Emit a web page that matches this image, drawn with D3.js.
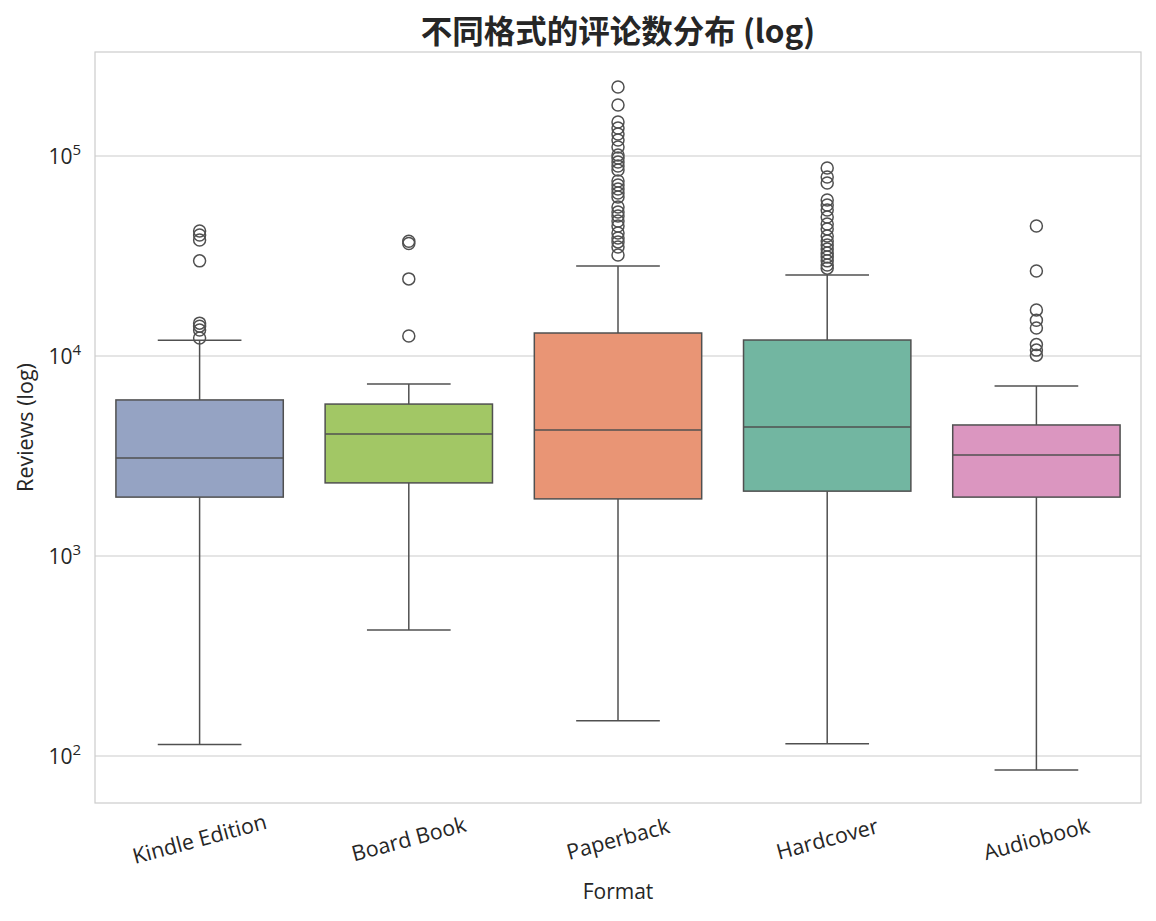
<!DOCTYPE html>
<html lang="zh">
<head>
    <meta charset="UTF-8">
    <title>不同格式的评论数分布 (log)</title>
    <script src="https://d3js.org/d3.v7.min.js"></script>
    <style>
        body, html {
            margin: 0;
            background-color: #ffffff;
        }
        text {
            font-family: "Open Sans", "Noto Sans", sans-serif;
            fill: #262626;
        }
    </style>
</head>
<body>
    <div id="chart"></div>

    <script>
        // Box statistics
        const formats = ["Kindle Edition", "Board Book", "Paperback", "Hardcover", "Audiobook"];
        const colors = ["#95a3c3", "#a2c765", "#e99575", "#72b6a1", "#db96c0"];
        const q1 = [1970, 2320, 1930, 2110, 1970];
        const median = [3090, 4070, 4270, 4420, 3200];
        const q3 = [6030, 5750, 13030, 12020, 4520];
        const whiskerLow = [114, 427, 150, 115, 85];
        const whiskerHigh = [12000, 7240, 28200, 25400, 7080];
        const outliers = [
            [42200, 40300, 38000, 29900, 14600, 14100, 13500, 12300],
            [37500, 36500, 24300, 12600],
            [221300, 179900, 147900, 138000, 128800, 120200, 110900, 101200, 97700, 93300,
             89100, 85100, 75000, 71600, 68400, 65300, 62400, 55600, 52500, 50100,
             47300, 44700, 41200, 38900, 37200, 35100, 32000],
            [87100, 78500, 73300, 60300, 56900, 53700, 49500, 45700, 43200, 39800,
             37600, 35900, 34300, 32700, 31300, 29900, 28500, 27500],
            [44700, 26600, 17000, 15100, 13800, 11400, 10700, 10100]
        ];
        const yTicks = [100, 1000, 10000, 100000];

        const width = 1156, height = 921;
        const margin = {top: 52, right: 15, bottom: 118, left: 95};
        const lineColor = "#505050";

        const svg = d3.select("#chart")
            .append("svg")
            .attr("width", width)
            .attr("height", height);

        const x = d3.scaleBand()
            .domain(formats)
            .range([margin.left, width - margin.right])
            .paddingInner(0)
            .paddingOuter(0);

        const y = d3.scaleLog()
            .domain([Math.pow(10, 1.765), Math.pow(10, 5.52)])
            .range([height - margin.bottom, margin.top]);

        // Grid
        svg.append("g")
            .selectAll("line")
            .data(yTicks)
            .join("line")
            .attr("x1", margin.left)
            .attr("x2", width - margin.right)
            .attr("y1", d => y(d))
            .attr("y2", d => y(d))
            .attr("stroke", "#cccccc")
            .attr("stroke-width", 1.2);

        // Frame
        svg.append("rect")
            .attr("x", margin.left)
            .attr("y", margin.top)
            .attr("width", width - margin.left - margin.right)
            .attr("height", height - margin.top - margin.bottom)
            .attr("fill", "none")
            .attr("stroke", "#cccccc")
            .attr("stroke-width", 1.2);

        // Y tick labels: 10 with superscript exponent
        const yLabels = svg.append("g")
            .selectAll("text")
            .data(yTicks)
            .join("text")
            .attr("x", margin.left - 14)
            .attr("y", d => y(d) + 8)
            .attr("text-anchor", "end")
            .style("font-size", "21px");
        yLabels.append("tspan").text("10");
        yLabels.append("tspan")
            .attr("dy", -9)
            .style("font-size", "15px")
            .text(d => Math.round(Math.log10(d)));

        // X tick labels, rotated 15°
        svg.append("g")
            .selectAll("text")
            .data(formats)
            .join("text")
            .attr("transform", d => `translate(${x(d) + x.bandwidth() / 2}, ${height - margin.bottom + 36}) rotate(-15)`)
            .attr("text-anchor", "middle")
            .attr("dy", "0.35em")
            .style("font-size", "21.5px")
            .text(d => d);

        // Axis titles
        svg.append("text")
            .attr("x", margin.left + (width - margin.left - margin.right) / 2)
            .attr("y", 899)
            .attr("text-anchor", "middle")
            .style("font-size", "21px")
            .text("Format");

        svg.append("text")
            .attr("transform", `translate(33, ${margin.top + (height - margin.top - margin.bottom) / 2}) rotate(-90)`)
            .attr("text-anchor", "middle")
            .style("font-size", "21.5px")
            .text("Reviews (log)");

        svg.append("text")
            .attr("x", margin.left + (width - margin.left - margin.right) / 2)
            .attr("y", 43)
            .attr("text-anchor", "middle")
            .style("font-family", "'Noto Sans CJK SC', sans-serif")
            .style("font-size", "31.5px")
            .style("font-weight", "bold")
            .text("不同格式的评论数分布 (log)");

        // Boxes
        const boxW = x.bandwidth() * 0.8;
        const groups = svg.append("g")
            .selectAll("g")
            .data(formats.map((f, i) => ({f, i})))
            .join("g")
            .attr("transform", d => `translate(${x(d.f) + x.bandwidth() / 2}, 0)`);

        // whiskers
        groups.append("line")
            .attr("x1", 0).attr("x2", 0)
            .attr("y1", d => y(whiskerHigh[d.i]))
            .attr("y2", d => y(q3[d.i]))
            .attr("stroke", lineColor).attr("stroke-width", 1.5);
        groups.append("line")
            .attr("x1", 0).attr("x2", 0)
            .attr("y1", d => y(q1[d.i]))
            .attr("y2", d => y(whiskerLow[d.i]))
            .attr("stroke", lineColor).attr("stroke-width", 1.5);
        // caps
        [whiskerHigh, whiskerLow].forEach(arr => {
            groups.append("line")
                .attr("x1", -boxW / 4).attr("x2", boxW / 4)
                .attr("y1", d => y(arr[d.i]))
                .attr("y2", d => y(arr[d.i]))
                .attr("stroke", lineColor).attr("stroke-width", 1.5);
        });
        // box
        groups.append("rect")
            .attr("x", -boxW / 2)
            .attr("width", boxW)
            .attr("y", d => y(q3[d.i]))
            .attr("height", d => y(q1[d.i]) - y(q3[d.i]))
            .attr("fill", d => colors[d.i])
            .attr("stroke", lineColor)
            .attr("stroke-width", 1.5);
        // median
        groups.append("line")
            .attr("x1", -boxW / 2).attr("x2", boxW / 2)
            .attr("y1", d => y(median[d.i]))
            .attr("y2", d => y(median[d.i]))
            .attr("stroke", lineColor).attr("stroke-width", 1.5);
        // outliers
        groups.selectAll("circle")
            .data(d => outliers[d.i])
            .join("circle")
            .attr("cx", 0)
            .attr("cy", d => y(d))
            .attr("r", 6)
            .attr("fill", "none")
            .attr("stroke", lineColor)
            .attr("stroke-width", 1.5);
    </script>
</body>
</html>
